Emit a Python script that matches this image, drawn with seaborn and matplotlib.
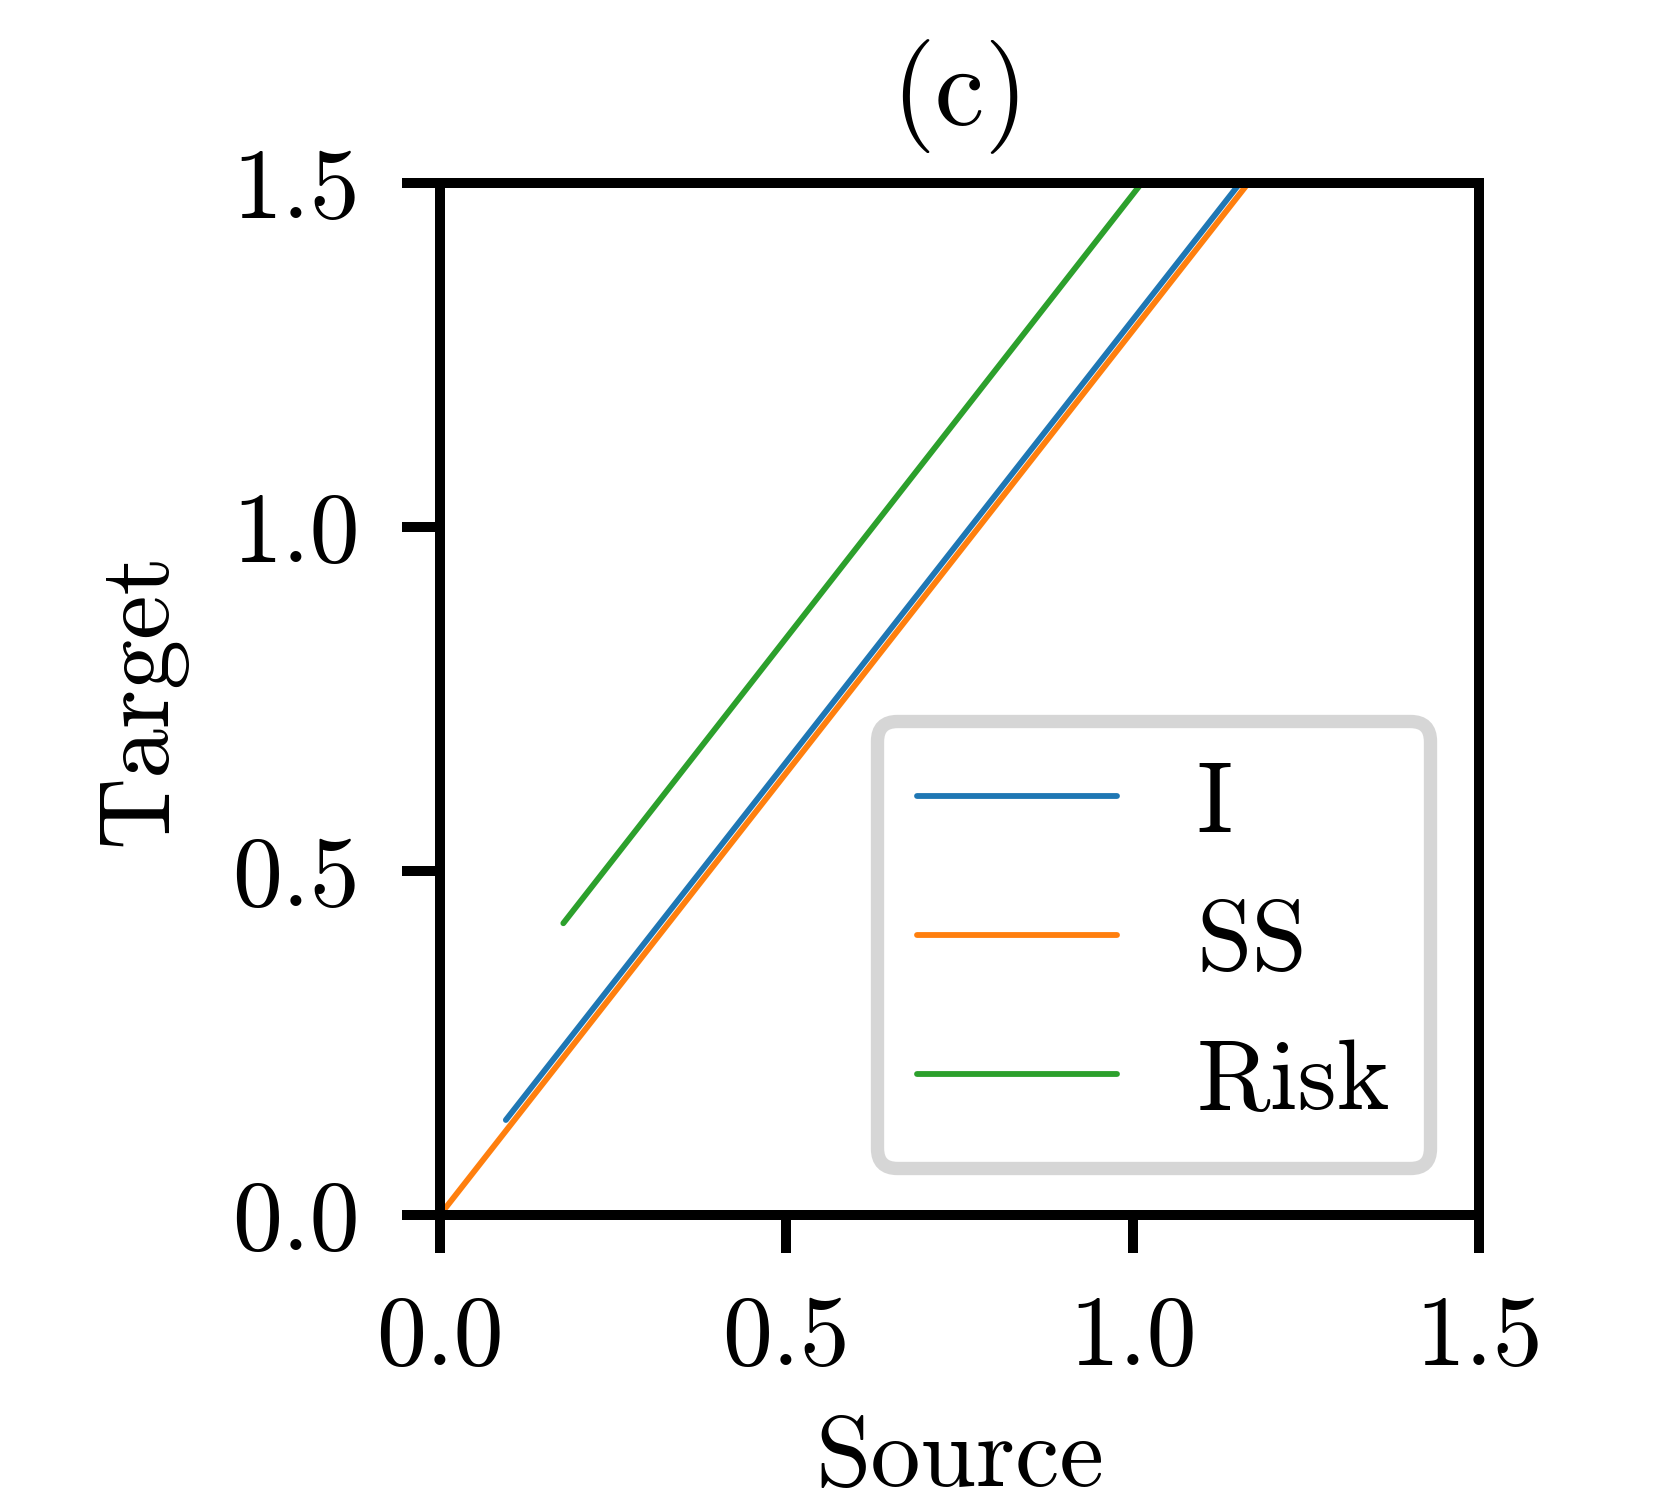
import matplotlib
matplotlib.use("Agg")
import matplotlib.pyplot as plt
import pandas as pd
import seaborn as sns

# values
series_names = ['I', 'SS', 'Risk']
i_source = [0.095, 1.155]
i_target = [0.138, 1.5]
ss_source = [0.0, 1.167]
ss_target = [0.0, 1.5]
risk_source = [0.178, 1.013]
risk_target = [0.424, 1.5]
ticks = [0.0, 0.5, 1.0, 1.5]
colors = ['#1f77b4', '#ff7f0e', '#2ca02c']

df = pd.DataFrame({
    'Source': i_source + ss_source + risk_source,
    'Target': i_target + ss_target + risk_target,
    'method': ['I'] * 2 + ['SS'] * 2 + ['Risk'] * 2,
})

sns.set_style('ticks')
plt.rcParams['font.family'] = 'serif'
plt.rcParams['font.serif'] = ['cmr10']
plt.rcParams['mathtext.fontset'] = 'cm'
plt.rcParams['axes.formatter.use_mathtext'] = True
plt.rcParams['axes.unicode_minus'] = False
plt.rcParams['font.size'] = 24
plt.rcParams['text.color'] = 'black'
plt.rcParams['axes.labelcolor'] = 'black'
plt.rcParams['axes.linewidth'] = 2.4
plt.rcParams['axes.edgecolor'] = 'black'
plt.rcParams['xtick.major.width'] = 2.4
plt.rcParams['ytick.major.width'] = 2.4
plt.rcParams['xtick.major.size'] = 9.2
plt.rcParams['ytick.major.size'] = 9.2
plt.rcParams['xtick.color'] = 'black'
plt.rcParams['ytick.color'] = 'black'

fig = plt.figure(figsize=(1670 / 300, 1504 / 300), dpi=300)
ax = fig.add_axes([0.2635, 0.1922, 0.6221, 0.6861])

sns.lineplot(data=df, x='Source', y='Target', hue='method', hue_order=series_names,
             palette=colors, sort=False, estimator=None, linewidth=1.4, ax=ax)

ax.set_xlim(0, 1.5)
ax.set_ylim(0, 1.5)
ax.set_xticks(ticks)
ax.set_yticks(ticks)
ax.set_xticklabels([f'{t:.1f}' for t in ticks])
ax.set_yticklabels([f'{t:.1f}' for t in ticks])
ax.tick_params(labelsize=24, pad=10)
ax.set_xlabel('Source', fontsize=24, labelpad=8)
ax.set_ylabel('Target', fontsize=24, labelpad=11)
ax.set_title('(c)', fontsize=27, pad=14)

leg = ax.legend(loc='lower right', bbox_to_anchor=(0.953, 0.045), borderaxespad=0,
                fontsize=24, fancybox=True, framealpha=1, title=None)
leg.get_frame().set_edgecolor('#d6d6d6')
leg.get_frame().set_linewidth(3.2)
for line in leg.get_lines():
    line.set_linewidth(1.4)

fig.savefig('out.png', dpi=300)
